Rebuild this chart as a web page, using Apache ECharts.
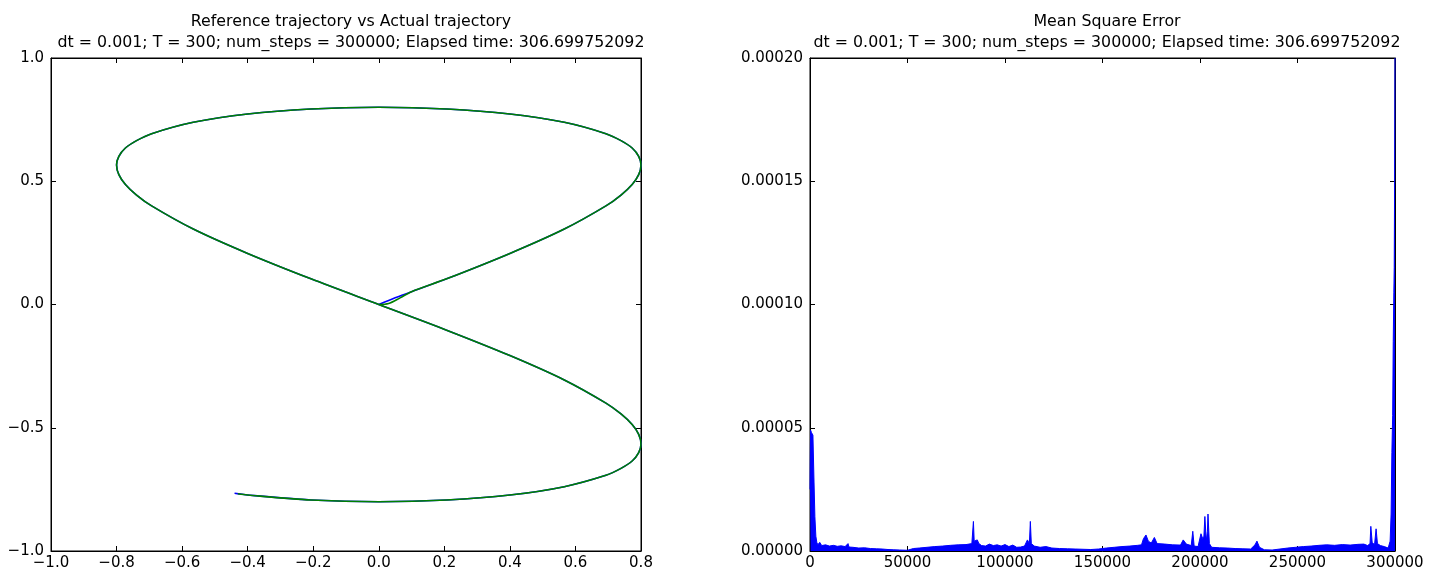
<!DOCTYPE html>
<html><head><meta charset="utf-8">
<script src="https://cdn.jsdelivr.net/npm/echarts@6/dist/echarts.min.js"></script>
<style>html,body{margin:0;padding:0;background:#fff}#c{width:1440px;height:577px}</style>
</head><body><div id="c"></div>
<script>
// Left panel: reference trajectory (blue) and actual trajectory (green)
const refTrajX = [0, 0.05, 0.1, 0.207, 0.4, 0.566, 0.693, 0.739, 0.773, 0.793, 0.8, 0.793, 0.773, 0.739, 0.693, 0.566, 0.4, 0.207, 0, -0.207, -0.4, -0.566, -0.693, -0.739, -0.773, -0.793, -0.8, -0.793, -0.773, -0.739, -0.693, -0.566, -0.4, -0.207, 0, 0.207, 0.4, 0.566, 0.693, 0.739, 0.773, 0.793, 0.8, 0.793, 0.773, 0.739, 0.693, 0.566, 0.4, 0.207, 0, -0.207, -0.4, -0.44];
const refTrajY = [0, 0.027, 0.052, 0.104, 0.207, 0.306, 0.4, 0.444, 0.487, 0.527, 0.566, 0.601, 0.635, 0.665, 0.693, 0.739, 0.773, 0.793, 0.8, 0.793, 0.773, 0.739, 0.693, 0.665, 0.635, 0.601, 0.566, 0.527, 0.487, 0.444, 0.4, 0.306, 0.207, 0.104, 0, -0.104, -0.207, -0.306, -0.4, -0.444, -0.487, -0.527, -0.566, -0.601, -0.635, -0.665, -0.693, -0.739, -0.773, -0.793, -0.8, -0.793, -0.773, -0.766];
const actTrajX = [0, 0.03, 0.065, 0.1, 0.207, 0.4, 0.566, 0.693, 0.739, 0.773, 0.793, 0.8, 0.793, 0.773, 0.739, 0.693, 0.566, 0.4, 0.207, 0, -0.207, -0.4, -0.566, -0.693, -0.739, -0.773, -0.793, -0.8, -0.793, -0.773, -0.739, -0.693, -0.566, -0.4, -0.207, 0, 0.207, 0.4, 0.566, 0.693, 0.739, 0.773, 0.793, 0.8, 0.793, 0.773, 0.739, 0.693, 0.566, 0.4, 0.207, 0, -0.207, -0.4, -0.43];
const actTrajY = [0, 0.004, 0.027, 0.052, 0.104, 0.207, 0.306, 0.4, 0.444, 0.487, 0.527, 0.566, 0.601, 0.635, 0.665, 0.693, 0.739, 0.773, 0.793, 0.8, 0.793, 0.773, 0.739, 0.693, 0.665, 0.635, 0.601, 0.566, 0.527, 0.487, 0.444, 0.4, 0.306, 0.207, 0.104, 0, -0.104, -0.207, -0.306, -0.4, -0.444, -0.487, -0.527, -0.566, -0.601, -0.635, -0.665, -0.693, -0.739, -0.773, -0.793, -0.8, -0.793, -0.773, -0.768];

// Right panel: mean square error per step
const mseSteps = [0, 300, 800, 1500, 2000, 2500, 3000, 3500, 4000, 5000, 6000, 8000, 10000, 12000, 14000, 16000, 18000, 19500, 20000, 22000, 25000, 28000, 31000, 34000, 37000, 40000, 43000, 46000, 50000, 53000, 56000, 60000, 64000, 68000, 72000, 76000, 80000, 83000, 83800, 84200, 85000, 85800, 86600, 88000, 90000, 92000, 94000, 96000, 98000, 100000, 102000, 104000, 106000, 108000, 110000, 111500, 112500, 113000, 113500, 115000, 118000, 121000, 124000, 128000, 132000, 136000, 140000, 144000, 148000, 152000, 156000, 160000, 164000, 168000, 170000, 171000, 172300, 173500, 175000, 176600, 178000, 182000, 186000, 190000, 191400, 193000, 195500, 196300, 197000, 199000, 200500, 201400, 202000, 202500, 203200, 203800, 204100, 204800, 206000, 210000, 214000, 218000, 222000, 226000, 228200, 229200, 230500, 233000, 237000, 241000, 245000, 249000, 253000, 257000, 261000, 265000, 269000, 273000, 277000, 281000, 284000, 286000, 287200, 287600, 288300, 289500, 290300, 291000, 292500, 294500, 296500, 297500, 298000, 298400, 298800, 299100, 299400, 299600, 299800, 300000];
const mseValues = [25e-6, 49e-6, 48e-6, 47e-6, 30e-6, 14e-6, 6e-6, 3.5e-6, 2.5e-6, 3.5e-6, 2.2e-6, 2.5e-6, 2.0e-6, 2.3e-6, 1.9e-6, 2.1e-6, 1.8e-6, 3.0e-6, 1.6e-6, 1.5e-6, 1.2e-6, 1.3e-6, 1.0e-6, 0.9e-6, 0.8e-6, 0.6e-6, 0.5e-6, 0.4e-6, 0.3e-6, 1.0e-6, 1.2e-6, 1.5e-6, 1.8e-6, 2.0e-6, 2.3e-6, 2.5e-6, 2.6e-6, 3.0e-6, 12e-6, 4e-6, 3.5e-6, 4.5e-6, 3.0e-6, 2.2e-6, 2.0e-6, 2.8e-6, 2.2e-6, 2.5e-6, 2.0e-6, 2.6e-6, 1.8e-6, 2.4e-6, 1.5e-6, 1.6e-6, 2.0e-6, 4.5e-6, 3.0e-6, 12e-6, 3.0e-6, 2.0e-6, 1.5e-6, 1.8e-6, 1.2e-6, 1.0e-6, 0.9e-6, 0.8e-6, 0.7e-6, 0.6e-6, 0.8e-6, 1.2e-6, 1.5e-6, 1.8e-6, 2.0e-6, 2.3e-6, 2.5e-6, 5.0e-6, 6.5e-6, 4.0e-6, 3.2e-6, 5.5e-6, 3.0e-6, 2.8e-6, 2.5e-6, 2.4e-6, 4.5e-6, 2.8e-6, 2.2e-6, 8.0e-6, 2.0e-6, 1.8e-6, 7.0e-6, 5.0e-6, 6.0e-6, 14e-6, 4.0e-6, 8.0e-6, 15e-6, 3.0e-6, 1.5e-6, 1.3e-6, 1.2e-6, 1.0e-6, 0.9e-6, 0.8e-6, 2.5e-6, 4.0e-6, 1.5e-6, 0.5e-6, 0.4e-6, 0.8e-6, 1.2e-6, 1.5e-6, 1.8e-6, 2.0e-6, 2.3e-6, 2.5e-6, 2.3e-6, 2.6e-6, 2.4e-6, 2.7e-6, 2.8e-6, 2.2e-6, 3.0e-6, 10e-6, 3.5e-6, 2.5e-6, 9.0e-6, 3.0e-6, 2.2e-6, 1.8e-6, 1.2e-6, 4e-6, 15e-6, 40e-6, 55e-6, 85e-6, 105e-6, 115e-6, 150e-6, 200e-6];

// Titles
const leftTitle = 'Reference trajectory vs Actual trajectory';
const rightTitle = 'Mean Square Error';
const subTitle = 'dt = 0.001; T = 300; num_steps = 300000; Elapsed time: 306.699752092';

const FONT = 'DejaVu Sans';
const TICK_FS = 15;
const TITLE_FS = 15.8;
const pairs = (xs, ys) => xs.map((x, i) => [x, ys[i]]);
const minusFmt = d => v => (v < 0 ? '\u2212' : '') + Math.abs(v).toFixed(d);

function axisBase(extra) {
  return Object.assign({
    type: 'value',
    axisLine: { show: true, onZero: false, lineStyle: { color: '#000', width: 1 } },
    axisTick: { show: true, inside: true, length: 5, lineStyle: { color: '#000' } },
    splitLine: { show: false }
  }, extra);
}
const lbl = (fmt, margin) => ({ color: '#000', fontFamily: FONT, fontSize: TICK_FS, margin: margin, formatter: fmt });
const hidden = { show: false };
const titleStyle = { fontFamily: FONT, fontSize: TITLE_FS, fontWeight: 'normal', color: '#000', lineHeight: 21 };

const chart = echarts.init(document.getElementById('c'), null, { renderer: 'canvas' });
chart.setOption({
  animation: false,
  backgroundColor: '#fff',
  title: [
    { text: leftTitle + '\n' + subTitle, left: 346, top: 6, textAlign: 'center', textStyle: titleStyle },
    { text: rightTitle + '\n' + subTitle, left: 1102, top: 6, textAlign: 'center', textStyle: titleStyle }
  ],
  grid: [
    { left: 51, right: 799, top: 58, bottom: 26, show: true, borderColor: '#000', borderWidth: 1 },
    { left: 810, right: 45, top: 58, bottom: 26, show: true, borderColor: '#000', borderWidth: 1 }
  ],
  xAxis: [
    axisBase({ gridIndex: 0, min: -1.0, max: 0.8, interval: 0.2, position: 'bottom', axisLabel: lbl(minusFmt(1), 5) }),
    axisBase({ gridIndex: 0, min: -1.0, max: 0.8, interval: 0.2, position: 'top', axisLabel: hidden }),
    axisBase({ gridIndex: 1, min: 0, max: 300000, interval: 50000, position: 'bottom', axisLabel: lbl(v => String(v), 5) }),
    axisBase({ gridIndex: 1, min: 0, max: 300000, interval: 50000, position: 'top', axisLabel: hidden })
  ],
  yAxis: [
    axisBase({ gridIndex: 0, min: -1.0, max: 1.0, interval: 0.5, position: 'left', axisLabel: lbl(minusFmt(1), 7) }),
    axisBase({ gridIndex: 0, min: -1.0, max: 1.0, interval: 0.5, position: 'right', axisLabel: hidden }),
    axisBase({ gridIndex: 1, min: 0, max: 0.0002, interval: 0.00005, position: 'left', axisLabel: lbl(v => v.toFixed(5), 7) }),
    axisBase({ gridIndex: 1, min: 0, max: 0.0002, interval: 0.00005, position: 'right', axisLabel: hidden })
  ],
  series: [
    { name: 'Reference', type: 'line', xAxisIndex: 0, yAxisIndex: 0, data: pairs(refTrajX, refTrajY),
      showSymbol: false, smooth: 0.3, lineStyle: { color: '#0000ff', width: 1.6 } },
    { name: 'Actual', type: 'line', xAxisIndex: 0, yAxisIndex: 0, data: pairs(actTrajX, actTrajY),
      showSymbol: false, smooth: 0.3, lineStyle: { color: '#008000', width: 1.6 } },
    { name: 'MSE', type: 'line', xAxisIndex: 2, yAxisIndex: 2, data: pairs(mseSteps, mseValues),
      showSymbol: false, lineStyle: { color: '#0000ff', width: 1 },
      areaStyle: { color: '#0000ff', opacity: 1, origin: 'start' } }
  ]
});
</script></body></html>
